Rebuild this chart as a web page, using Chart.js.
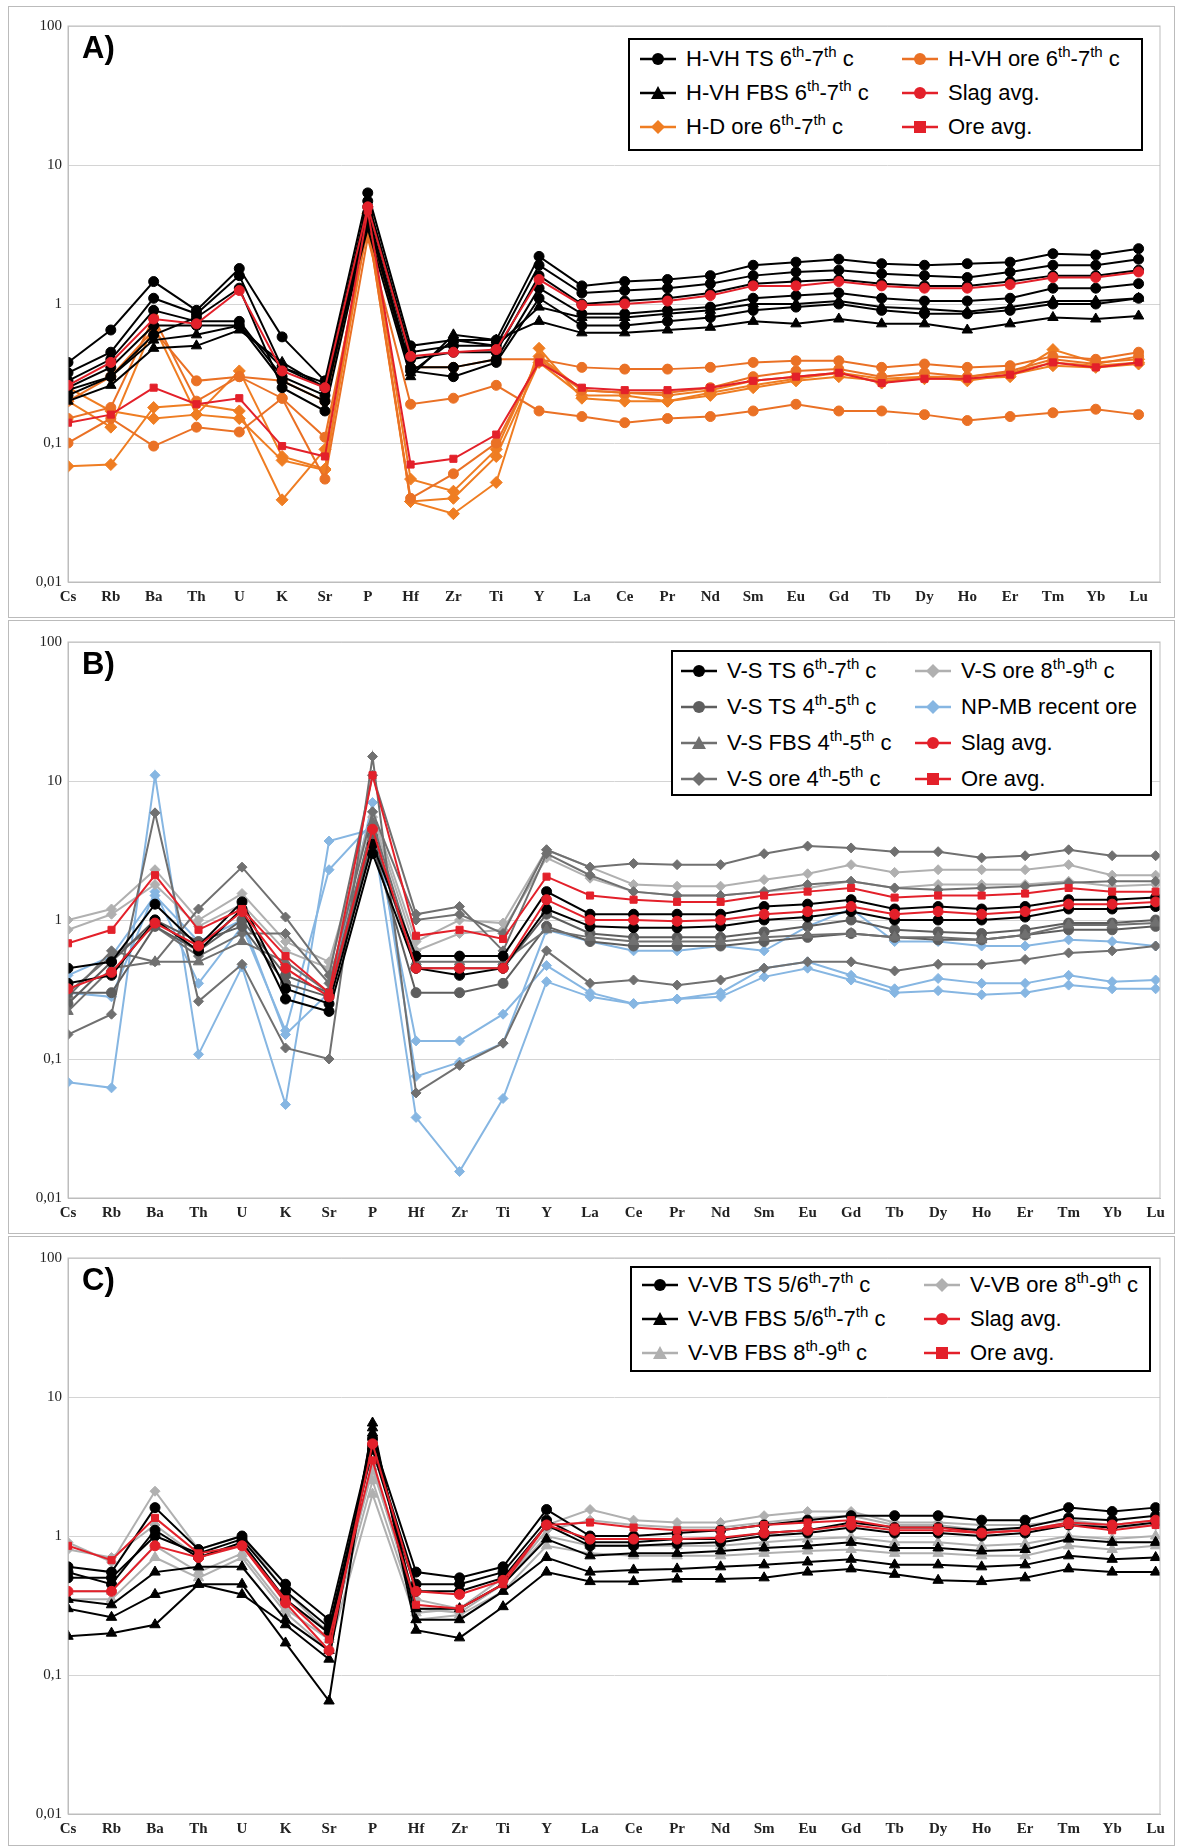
<!DOCTYPE html>
<html><head><meta charset="utf-8">
<script src="https://cdn.jsdelivr.net/npm/chart.js@4"></script>
<style>
body{margin:0;background:#fff;width:1178px;height:1848px;position:relative;font-family:"Liberation Sans",Arial,sans-serif}
.panel{position:absolute;left:0;width:1178px;height:616px}
.frame{position:absolute;border:1px solid #bbb}
.lab{position:absolute;font-weight:bold;font-size:31px;left:82px}
.leg{position:absolute;border:2.5px solid #000;background:#fff;font-size:22px;box-sizing:border-box}
.it{position:absolute;white-space:nowrap;display:flex;align-items:center}
.it svg{margin-right:8px}
sup{font-size:15px;vertical-align:9px;line-height:0}
</style></head><body>
<div class="frame" style="left:8px;top:6px;width:1165px;height:610px"></div>
<div class="frame" style="left:8px;top:620px;width:1165px;height:612px"></div>
<div class="frame" style="left:8px;top:1236px;width:1165px;height:608px"></div>
<div class="panel" style="top:0"><canvas id="cA"></canvas></div>
<div class="panel" style="top:616px"><canvas id="cB"></canvas></div>
<div class="panel" style="top:1232px"><canvas id="cC"></canvas></div>
<div class="lab" style="top:30px">A)</div>
<div class="lab" style="top:646px">B)</div>
<div class="lab" style="top:1262px">C)</div>
<div id="legA" class="leg" style="left:628px;top:38px;width:515px;height:113px"></div>
<div id="legB" class="leg" style="left:671px;top:650px;width:481px;height:146px"></div>
<div id="legC" class="leg" style="left:630px;top:1266px;width:521px;height:106px"></div>
<script>
const elements=["Cs","Rb","Ba","Th","U","K","Sr","P","Hf","Zr","Ti","Y","La","Ce","Pr","Nd","Sm","Eu","Gd","Tb","Dy","Ho","Er","Tm","Yb","Lu"];
const yTicks=[0.01,0.1,1,10,100];
const yTickLabels=["0,01","0,1","1","10","100"];

// Panel A
const A_TS=[
[.38,.65,1.45,.9,1.8,.58,.28,6.3,.5,.55,.55,2.2,1.35,1.45,1.5,1.6,1.9,2.0,2.1,1.95,1.9,1.95,2.0,2.3,2.25,2.5],
[.32,.45,1.1,.85,1.6,.35,.25,5.5,.45,.5,.5,1.9,1.2,1.25,1.3,1.4,1.6,1.7,1.75,1.65,1.6,1.55,1.7,1.9,1.9,2.1],
[.28,.4,.9,.75,.75,.3,.22,5,.4,.45,.45,1.6,1.0,1.05,1.1,1.2,1.4,1.45,1.5,1.4,1.35,1.35,1.45,1.6,1.6,1.75],
[.25,.35,.7,.7,.7,.28,.2,4.5,.35,.35,.4,1.3,.85,.85,.9,.95,1.1,1.15,1.2,1.1,1.05,1.05,1.1,1.3,1.3,1.4],
[.22,.3,.6,.8,1.3,.25,.17,4,.33,.3,.38,1.1,.7,.7,.75,.8,.9,.95,1.0,.9,.85,.85,.9,1.0,1.0,1.1]];
const A_FBS=[
[.2,.26,.48,.5,.65,.38,.25,3.5,.3,.6,.55,.75,.62,.62,.65,.68,.75,.72,.78,.72,.72,.65,.72,.8,.78,.82],
[.24,.3,.55,.6,.7,.35,.27,4.2,.32,.55,.5,.95,.8,.8,.85,.9,1,1,1.05,.95,.92,.88,.95,1.05,1.05,1.1]];
const A_VHore=[
[.1,.15,.095,.13,.12,.21,.055,3,.19,.21,.26,.17,.155,.14,.15,.155,.17,.19,.17,.17,.16,.145,.155,.165,.175,.16],
[.2,.3,.65,.28,.3,.21,.11,3.5,.35,.35,.4,.4,.35,.34,.34,.35,.38,.39,.39,.35,.37,.35,.36,.42,.4,.45],
[.15,.18,.8,.2,.3,.28,.2,3.8,.04,.06,.1,.4,.24,.23,.23,.25,.3,.33,.34,.3,.32,.3,.33,.4,.37,.42]];
const A_HDore=[
[.068,.07,.18,.19,.17,.039,.09,4.2,.038,.031,.052,.48,.21,.2,.2,.22,.25,.28,.3,.28,.29,.29,.3,.47,.38,.4],
[.2,.13,.7,.16,.15,.075,.064,4.5,.055,.045,.09,.42,.24,.23,.22,.24,.28,.3,.32,.29,.3,.3,.32,.38,.36,.38],
[.25,.17,.15,.16,.33,.08,.065,3.8,.038,.04,.08,.38,.22,.22,.2,.23,.26,.29,.32,.27,.3,.28,.31,.36,.35,.37]];
const A_slag=[.26,.38,.78,.72,1.25,.33,.25,5,.42,.45,.47,1.5,.98,1.0,1.05,1.15,1.35,1.35,1.45,1.35,1.3,1.3,1.38,1.55,1.55,1.7];
const A_ore=[.14,.16,.25,.19,.21,.095,.08,4.7,.07,.077,.115,.38,.25,.24,.24,.25,.28,.3,.32,.27,.29,.29,.31,.38,.35,.38];

// Panel B
const B_TS67=[
[.45,.5,1.3,.65,1.35,.32,.25,3.5,.55,.55,.55,1.6,1.1,1.1,1.1,1.1,1.25,1.3,1.4,1.2,1.25,1.2,1.25,1.4,1.4,1.45],
[.35,.4,1.0,.6,1.2,.27,.22,3.0,.45,.4,.45,1.2,.9,.88,.88,.9,1.0,1.05,1.15,1.0,1.0,1.0,1.05,1.2,1.2,1.25]];
const B_TS45=[
[.3,.3,.9,.6,1.0,.4,.3,3.5,.3,.3,.35,.9,.7,.65,.65,.65,.7,.75,.8,.75,.72,.72,.78,.85,.85,.9],
[.25,.5,1.0,.7,.9,.35,.28,4,.45,.45,.45,1.1,.8,.75,.75,.75,.82,.9,1.0,.85,.82,.8,.85,.95,.95,1.0]];
const B_FBS45=[
[.22,.45,.5,.5,.7,.5,.3,5,.5,.5,.5,.85,.75,.7,.7,.7,.75,.78,.8,.75,.75,.72,.78,.92,.92,.95]];
const B_ore45=[
[.15,.21,5.9,.26,.48,.12,.1,15,.057,.09,.13,.6,.35,.37,.34,.37,.45,.5,.5,.43,.48,.48,.52,.58,.6,.65],
[.28,.6,.5,1.2,2.4,1.05,.4,11,1.1,1.25,.6,3.0,2.1,1.6,1.5,1.5,1.6,1.8,1.9,1.7,1.65,1.7,1.75,1.85,1.9,1.9],
[.3,.55,.9,.55,.8,.8,.35,6,1.0,1.1,.8,3.2,2.4,2.55,2.5,2.5,3,3.4,3.3,3.1,3.1,2.8,2.9,3.2,2.9,2.9]];
const B_ore89=[
[1.0,1.2,2.3,1.0,1.55,.7,.5,6,.7,1.0,.95,3.2,2.4,1.8,1.75,1.75,1.95,2.15,2.5,2.2,2.3,2.3,2.3,2.5,2.1,2.1],
[.85,1.1,1.8,.9,1.3,.6,.45,5.5,.6,.8,.85,2.8,2.0,1.6,1.5,1.5,1.6,1.7,1.9,1.7,1.8,1.8,1.8,1.9,1.75,1.8]];
const B_NPMB=[
[.068,.062,11,.108,.46,.047,3.7,4.5,.038,.0155,.052,.36,.28,.25,.27,.28,.39,.45,.37,.3,.31,.29,.3,.34,.32,.32],
[.3,.28,1.6,.35,.9,.16,2.3,5,.135,.135,.21,.47,.3,.25,.27,.3,.45,.5,.4,.32,.38,.35,.35,.4,.36,.37],
[.4,.55,1.5,.7,1.0,.15,.3,7,.075,.095,.13,.85,.7,.6,.6,.65,.6,.9,1.2,.7,.7,.65,.65,.72,.7,.65]];
const B_slag=[.32,.42,.95,.65,1.15,.45,.28,4.5,.45,.45,.45,1.4,1.0,1.0,.98,1.0,1.1,1.15,1.25,1.1,1.15,1.1,1.15,1.3,1.3,1.35];
const B_ore=[.68,.85,2.1,.85,1.2,.55,.3,11,.77,.85,.73,2.05,1.5,1.4,1.35,1.35,1.5,1.6,1.7,1.45,1.5,1.5,1.55,1.7,1.6,1.6];

// Panel C
const C_TS=[
[.6,.55,1.6,.8,1.0,.45,.25,5,.55,.5,.6,1.55,1.0,1.0,1.05,1.1,1.2,1.3,1.4,1.4,1.4,1.3,1.3,1.6,1.5,1.6],
[.5,.5,1.0,.75,.95,.4,.22,4.5,.45,.45,.55,1.3,.9,.9,.95,.95,1.05,1.1,1.25,1.15,1.15,1.1,1.15,1.35,1.3,1.4],
[.55,.45,1.1,.7,.9,.35,.2,4.2,.4,.4,.5,1.2,.85,.85,.88,.9,1.0,1.05,1.15,1.05,1.05,1.0,1.05,1.2,1.15,1.25]];
const C_FBS567=[
[.19,.2,.23,.45,.45,.17,.065,6.5,.21,.185,.31,.55,.47,.47,.49,.49,.5,.55,.58,.53,.48,.47,.5,.58,.55,.55],
[.3,.26,.38,.45,.38,.23,.13,6,.25,.25,.4,.7,.55,.57,.58,.6,.62,.65,.68,.62,.62,.6,.62,.72,.68,.7],
[.35,.32,.55,.6,.6,.25,.15,5.5,.3,.3,.45,.95,.72,.75,.75,.78,.82,.85,.9,.82,.82,.78,.8,.95,.9,.9]];
const C_FBS89=[
[.35,.35,.7,.5,.7,.28,.15,2.0,.25,.27,.4,.85,.75,.72,.72,.72,.75,.78,.8,.75,.75,.72,.72,.85,.8,.85],
[.4,.4,.85,.55,.75,.3,.18,2.5,.28,.3,.45,1.0,.85,.85,.85,.85,.9,.95,.98,.9,.9,.85,.88,1.0,.95,1.0]];
const C_ore89=[
[.9,.65,2.1,.8,1.0,.4,.2,3,.35,.3,.5,1.2,1.55,1.3,1.25,1.25,1.4,1.5,1.5,1.25,1.25,1.2,1.2,1.3,1.2,1.3],
[.8,.7,1.2,.7,.9,.35,.18,3.2,.3,.28,.45,1.1,1.3,1.2,1.15,1.15,1.25,1.35,1.4,1.2,1.2,1.1,1.1,1.25,1.15,1.2]];
const C_slag=[.4,.4,.85,.7,.85,.33,.15,4.6,.4,.38,.48,1.2,.95,.95,.95,.97,1.05,1.1,1.2,1.1,1.1,1.05,1.1,1.25,1.2,1.3];
const C_ore=[.85,.67,1.35,.75,.85,.35,.18,3.5,.32,.3,.45,1.2,1.25,1.15,1.1,1.1,1.2,1.25,1.3,1.15,1.15,1.05,1.1,1.2,1.1,1.2];

const BLACK="#000",ORG="#ea7125",ORG2="#ef7d22",RED="#e3202a",GRAY="#5e5e5e",DGRAY="#707070",LGRAY="#b0b0b0",BLUE="#86b6e2";

function ds(vals,color,shape,order,r){
  return {data:vals.map((v,i)=>({x:i,y:v})),borderColor:color,backgroundColor:color,
    pointStyle:shape,pointRadius:r||5,borderWidth:2,pointBorderWidth:1,order:order};
}
function many(arr,color,shape,order,r){return arr.map(a=>ds(a,color,shape,order,r));}

function makeChart(id,datasets,xmax){
  new Chart(document.getElementById(id),{
    type:'line',
    data:{datasets:datasets},
    options:{responsive:false,animation:false,devicePixelRatio:1,
      layout:{padding:{top:26,right:18,bottom:2,left:8}},
      plugins:{legend:{display:false},tooltip:{enabled:false}},
      elements:{line:{tension:0}},
      scales:{
        x:{type:'linear',min:0,max:xmax,
          afterBuildTicks:s=>{s.ticks=elements.map((e,i)=>({value:i}));},
          afterFit:s=>{s.height=32;},
          ticks:{autoSkip:false,maxRotation:0,callback:v=>elements[v],color:"#222",
            font:{family:"Liberation Serif",weight:"bold",size:15},padding:6},
          grid:{display:false,drawTicks:false},border:{color:"#bdbdbd"}},
        y:{type:'logarithmic',min:0.01,max:100,
          afterBuildTicks:s=>{s.ticks=yTicks.map(v=>({value:v}));},
          afterFit:s=>{s.width=60;},
          ticks:{callback:v=>yTickLabels[yTicks.indexOf(v)],color:"#222",
            font:{family:"Liberation Serif",size:15},padding:6},
          grid:{color:"#d4d4d4",drawTicks:false},border:{color:"#bdbdbd"}}
      }
    },
    plugins:[{id:'frame',afterDraw(c){const a=c.chartArea,x=c.ctx;x.save();x.strokeStyle="#bdbdbd";x.lineWidth=1;x.strokeRect(a.left,a.top,a.right-a.left,a.bottom-a.top);x.restore();}}]
  });
}
['cA','cB','cC'].forEach(id=>{const c=document.getElementById(id);c.width=1178;c.height=616;});

makeChart('cA',[
  ...many(A_HDore,ORG2,'rectRot',5,6),
  ...many(A_VHore,ORG,'circle',4),
  ...many(A_FBS,BLACK,'triangle',3,6),
  ...many(A_TS,BLACK,'circle',2),
  ds(A_slag,RED,'circle',1),
  ds(A_ore,RED,'rect',1)
],25.5);
makeChart('cB',[
  ...many(B_NPMB,BLUE,'rectRot',6,5),
  ...many(B_ore89,LGRAY,'rectRot',5,5),
  ...many(B_ore45,DGRAY,'rectRot',4,5),
  ...many(B_FBS45,DGRAY,'triangle',3,6),
  ...many(B_TS45,GRAY,'circle',3),
  ...many(B_TS67,BLACK,'circle',2),
  ds(B_slag,RED,'circle',1),
  ds(B_ore,RED,'rect',1)
],25.1);
makeChart('cC',[
  ...many(C_FBS89,LGRAY,'triangle',5,6),
  ...many(C_ore89,LGRAY,'rectRot',4,5),
  ...many(C_FBS567,BLACK,'triangle',3,6),
  ...many(C_TS,BLACK,'circle',2),
  ds(C_slag,RED,'circle',1),
  ds(C_ore,RED,'rect',1)
],25.1);

function marker(color,shape){
  let m;
  if(shape==='circle')m=`<circle cx="20" cy="10" r="6" fill="${color}"/>`;
  else if(shape==='rect')m=`<rect x="14" y="4" width="12" height="12" fill="${color}"/>`;
  else if(shape==='triangle')m=`<polygon points="20,3 27,16 13,16" fill="${color}"/>`;
  else m=`<polygon points="20,3 27,10 20,17 13,10" fill="${color}"/>`;
  return `<svg width="40" height="20"><line x1="2" y1="10" x2="38" y2="10" stroke="${color}" stroke-width="2.5"/>${m}</svg>`;
}
function legend(id,items){
  const el=document.getElementById(id);
  items.forEach(([x,y,color,shape,html])=>{
    const d=document.createElement('div');d.className='it';d.style.left=x+'px';d.style.top=y+'px';
    d.innerHTML=marker(color,shape)+'<span>'+html+'</span>';el.appendChild(d);
  });
}
legend('legA',[
 [8,6,BLACK,'circle','H-VH TS 6<sup>th</sup>-7<sup>th</sup> c'],
 [8,40,BLACK,'triangle','H-VH FBS 6<sup>th</sup>-7<sup>th</sup> c'],
 [8,74,ORG2,'rectRot','H-D ore 6<sup>th</sup>-7<sup>th</sup> c'],
 [270,6,ORG,'circle','H-VH ore 6<sup>th</sup>-7<sup>th</sup> c'],
 [270,40,RED,'circle','Slag avg.'],
 [270,74,RED,'rect','Ore avg.']
]);
legend('legB',[
 [6,6,BLACK,'circle','V-S TS 6<sup>th</sup>-7<sup>th</sup> c'],
 [6,42,GRAY,'circle','V-S TS 4<sup>th</sup>-5<sup>th</sup> c'],
 [6,78,DGRAY,'triangle','V-S FBS 4<sup>th</sup>-5<sup>th</sup> c'],
 [6,114,DGRAY,'rectRot','V-S ore 4<sup>th</sup>-5<sup>th</sup> c'],
 [240,6,LGRAY,'rectRot','V-S ore 8<sup>th</sup>-9<sup>th</sup> c'],
 [240,42,BLUE,'rectRot','NP-MB recent ore'],
 [240,78,RED,'circle','Slag avg.'],
 [240,114,RED,'rect','Ore avg.']
]);
legend('legC',[
 [8,4,BLACK,'circle','V-VB TS 5/6<sup>th</sup>-7<sup>th</sup> c'],
 [8,38,BLACK,'triangle','V-VB FBS 5/6<sup>th</sup>-7<sup>th</sup> c'],
 [8,72,LGRAY,'triangle','V-VB FBS 8<sup>th</sup>-9<sup>th</sup> c'],
 [290,4,LGRAY,'rectRot','V-VB ore 8<sup>th</sup>-9<sup>th</sup> c'],
 [290,38,RED,'circle','Slag avg.'],
 [290,72,RED,'rect','Ore avg.']
]);
</script>
</body></html>
